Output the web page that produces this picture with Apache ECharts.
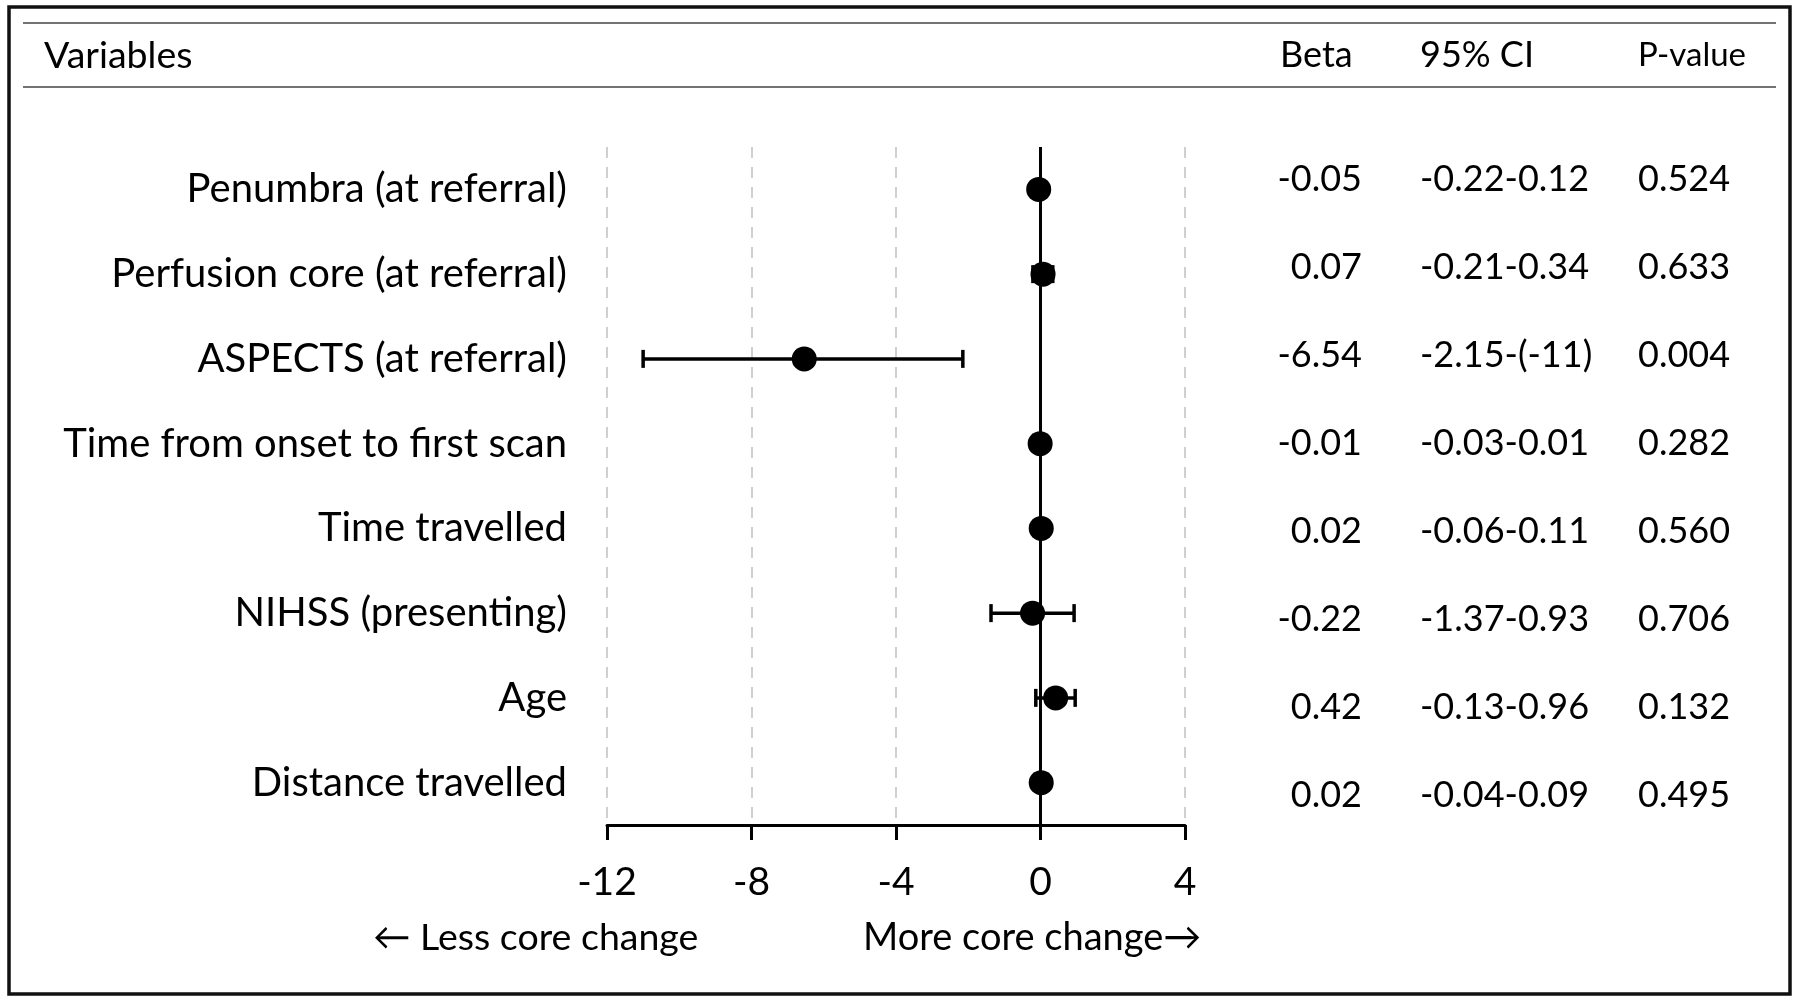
<!DOCTYPE html>
<html>
<head>
<meta charset="utf-8">
<title>Core change forest plot</title>
<script src="https://cdn.jsdelivr.net/npm/echarts@6/dist/echarts.min.js"></script>
<style>
  html, body { margin: 0; padding: 0; background: #fff; }
  #MainContent { width: 1799px; height: 1004px; }
</style>
</head>
<body>
<div id="MainContent"></div>
<script>
var variables = ['Penumbra (at referral)', 'Perfusion core (at referral)', 'ASPECTS (at referral)',
    'Time from onset to first scan', 'Time travelled', 'NIHSS (presenting)', 'Age', 'Distance travelled'];
var beta = [-0.05, 0.07, -6.54, -0.01, 0.02, -0.22, 0.42, 0.02];
var ciLow = [-0.22, -0.21, -11, -0.03, -0.06, -1.37, -0.13, -0.04];
var ciHigh = [0.12, 0.34, -2.15, 0.01, 0.11, 0.93, 0.96, 0.09];
var betaText = ['-0.05', '0.07', '-6.54', '-0.01', '0.02', '-0.22', '0.42', '0.02'];
var ciText = ['-0.22-0.12', '-0.21-0.34', '-2.15-(-11)', '-0.03-0.01', '-0.06-0.11', '-1.37-0.93', '-0.13-0.96', '-0.04-0.09'];
var pText = ['0.524', '0.633', '0.004', '0.282', '0.560', '0.706', '0.132', '0.495'];
var xTicks = [-12, 4, 4]; // min, max, interval

var FONT = 'Lato, "DejaVu Sans", sans-serif';

function draw() {
    var chart = echarts.init(document.getElementById('MainContent'));

    var pointData = beta.map(function (b, i) { return [b, i]; });
    var barData = ciLow.map(function (lo, i) { return [lo, ciHigh[i], i]; });

    var option = {
        animation: false,
        backgroundColor: '#fff',
        textStyle: { fontFamily: FONT },
        grid: [
            { left: 607, width: 578, top: 147, height: 678 },
            { left: 1420, right: 161, top: 135, height: 704 }
        ],
        xAxis: [{
            gridIndex: 0,
            type: 'value',
            min: xTicks[0],
            max: xTicks[1],
            interval: xTicks[2],
            axisLine: { show: true, lineStyle: { color: '#000', width: 3 } },
            axisTick: { show: true, length: 15, lineStyle: { color: '#000', width: 3 } },
            axisLabel: { color: '#000', fontSize: 39, fontFamily: FONT, margin: 38 },
            splitLine: { show: true, lineStyle: { color: '#d0d0d0', width: 2, type: [11, 9] } }
        }, {
            gridIndex: 1,
            type: 'value',
            show: false
        }],
        yAxis: [{
            gridIndex: 0,
            type: 'category',
            inverse: true,
            data: variables,
            axisLine: { show: false },
            axisTick: { show: false },
            splitLine: { show: false },
            axisLabel: { color: '#000', fontSize: 40, fontFamily: FONT, margin: 40 }
        }, {
            gridIndex: 1,
            type: 'category',
            inverse: true,
            position: 'left',
            offset: 58,
            data: betaText,
            axisLine: { show: false },
            axisTick: { show: false },
            axisLabel: { color: '#000', fontSize: 36, fontFamily: FONT, margin: 0 }
        }, {
            gridIndex: 1,
            type: 'category',
            inverse: true,
            position: 'left',
            offset: 0,
            data: ciText,
            axisLine: { show: false },
            axisTick: { show: false },
            axisLabel: { color: '#000', fontSize: 36, fontFamily: FONT, margin: 0, align: 'left' }
        }, {
            gridIndex: 1,
            type: 'category',
            inverse: true,
            position: 'right',
            offset: 0,
            data: pText,
            axisLine: { show: false },
            axisTick: { show: false },
            axisLabel: { color: '#000', fontSize: 36, fontFamily: FONT, margin: 0 }
        }],
        series: [{
            type: 'custom',
            xAxisIndex: 0,
            yAxisIndex: 0,
            data: barData,
            renderItem: function (params, api) {
                var lo = api.coord([api.value(0), api.value(2)]);
                var hi = api.coord([api.value(1), api.value(2)]);
                var cap = 9;
                var style = { stroke: '#000', lineWidth: 3.5 };
                return {
                    type: 'group',
                    children: [
                        { type: 'line', shape: { x1: lo[0], y1: lo[1], x2: hi[0], y2: hi[1] }, style: style },
                        { type: 'line', shape: { x1: lo[0], y1: lo[1] - cap, x2: lo[0], y2: lo[1] + cap }, style: style },
                        { type: 'line', shape: { x1: hi[0], y1: hi[1] - cap, x2: hi[0], y2: hi[1] + cap }, style: style }
                    ]
                };
            },
            z: 3
        }, {
            type: 'scatter',
            xAxisIndex: 0,
            yAxisIndex: 0,
            data: pointData,
            symbol: 'circle',
            symbolSize: 25,
            itemStyle: { color: '#000', opacity: 1 },
            markLine: {
                silent: true,
                symbol: 'none',
                label: { show: false },
                lineStyle: { color: '#000', width: 3, type: 'solid', opacity: 1 },
                data: [{ xAxis: 0 }]
            },
            z: 4
        }],
        graphic: [
            { type: 'rect', shape: { x: 9, y: 7, width: 1781, height: 987 },
              style: { fill: 'none', stroke: '#111', lineWidth: 3.5 } },
            { type: 'line', shape: { x1: 23, y1: 23, x2: 1776, y2: 23 },
              style: { stroke: '#444', lineWidth: 1.5 } },
            { type: 'line', shape: { x1: 23, y1: 87, x2: 1776, y2: 87 },
              style: { stroke: '#444', lineWidth: 1.5 } },
            { type: 'text', left: 44, top: 37,
              style: { text: 'Variables', font: '37.5px ' + FONT, fill: '#000' } },
            { type: 'text', left: 1280, top: 37,
              style: { text: 'Beta', font: '36px ' + FONT, fill: '#000' } },
            { type: 'text', left: 1420, top: 37,
              style: { text: '95% CI', font: '36px ' + FONT, fill: '#000' } },
            { type: 'text', left: 1638, top: 39,
              style: { text: 'P-value', font: '33px ' + FONT, fill: '#000' } },
            { type: 'text', left: 373, top: 919,
              style: { text: '\u2190 Less core change', font: '37.5px ' + FONT, fill: '#000' } },
            { type: 'text', left: 863, top: 919,
              style: { text: 'More core change\u2192', font: '38px ' + FONT, fill: '#000' } }
        ]
    };

    chart.setOption(option);
    window.onresize = chart.resize;
}

draw();
</script>
</body>
</html>
